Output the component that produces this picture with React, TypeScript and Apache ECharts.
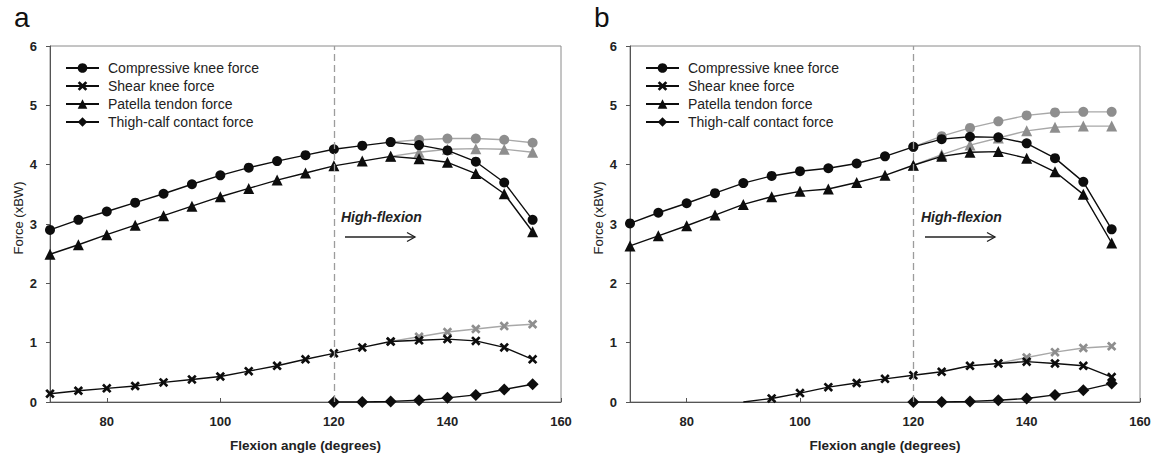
import React, { useEffect, useRef } from "react";
import * as echarts from "echarts";

// ---------- data ----------
const anglesFull = [70, 75, 80, 85, 90, 95, 100, 105, 110, 115, 120, 125, 130, 135, 140, 145, 150, 155];
const anglesFrom90 = [90, 95, 100, 105, 110, 115, 120, 125, 130, 135, 140, 145, 150, 155];
const anglesFrom120 = [120, 125, 130, 135, 140, 145, 150, 155];
const anglesFrom130 = [130, 135, 140, 145, 150, 155];
const anglesFrom135 = [135, 140, 145, 150, 155];

// Panel a
const compA = [2.9, 3.07, 3.21, 3.36, 3.51, 3.67, 3.82, 3.95, 4.06, 4.16, 4.26, 4.32, 4.38, 4.33, 4.24, 4.05, 3.7, 3.07];
const shearA = [0.14, 0.19, 0.23, 0.27, 0.33, 0.38, 0.43, 0.52, 0.61, 0.72, 0.82, 0.92, 1.02, 1.04, 1.06, 1.03, 0.92, 0.72];
const patA = [2.49, 2.65, 2.82, 2.98, 3.14, 3.3, 3.46, 3.6, 3.74, 3.86, 3.98, 4.06, 4.14, 4.1, 4.04, 3.85, 3.51, 2.87];
const thighA = [0, 0, 0.01, 0.03, 0.07, 0.12, 0.21, 0.3];
const compAGray = [4.38, 4.42, 4.44, 4.44, 4.42, 4.37];
const shearAGray = [1.02, 1.1, 1.18, 1.23, 1.28, 1.31];
const patAGray = [4.14, 4.21, 4.26, 4.27, 4.26, 4.21];

// Panel b
const compB = [3.01, 3.19, 3.35, 3.52, 3.69, 3.81, 3.89, 3.94, 4.02, 4.14, 4.3, 4.43, 4.47, 4.46, 4.36, 4.11, 3.71, 2.91];
const shearB = [0, 0.06, 0.15, 0.25, 0.32, 0.39, 0.45, 0.51, 0.61, 0.65, 0.68, 0.65, 0.61, 0.42];
const patB = [2.63, 2.8, 2.97, 3.15, 3.33, 3.46, 3.55, 3.59, 3.7, 3.82, 3.99, 4.14, 4.21, 4.22, 4.11, 3.88, 3.5, 2.68];
const thighB = [0, 0, 0.01, 0.03, 0.06, 0.12, 0.2, 0.31];
const compBGray = [4.3, 4.48, 4.62, 4.73, 4.83, 4.88, 4.89, 4.89];
const shearBGray = [0.65, 0.75, 0.84, 0.91, 0.94];
const patBGray = [3.99, 4.17, 4.33, 4.45, 4.57, 4.63, 4.65, 4.65];

const seriesNames = ["Compressive knee force", "Shear knee force", "Patella tendon force", "Thigh-calf contact force"];
const xTicks = [80, 100, 120, 140, 160];
const panelLetters = ["a", "b"];
const highFlexionAngle = 120;

// ---------- style ----------
const FONT = '"Liberation Sans", Arial, Helvetica, sans-serif';
const BLACK = "#0d0d0d";
const GRAY_LINE = "#a8a8a8";
const GRAY_MARK = "#8e8e8e";
const CROSS = "path://M0,2L2,0L5,3L8,0L10,2L7,5L10,8L8,10L5,7L2,10L0,8L3,5Z";
const SYMBOLS = ["circle", CROSS, "triangle", "diamond"];
const SIZES = [10, 9.5, 11, 12];

function pts(angles: number[], values: number[]) {
  return angles.map((a, i) => [a, values[i]]);
}

function lineSeries(name: string, kind: number, data: any[], grid: number, gray: boolean, extra: any = {}) {
  return {
    type: "line",
    name,
    xAxisIndex: grid,
    yAxisIndex: grid,
    data,
    symbol: SYMBOLS[kind],
    symbolSize: SIZES[kind],
    showSymbol: true,
    clip: true,
    lineStyle: { color: gray ? GRAY_LINE : BLACK, width: 1.4 },
    itemStyle: { color: gray ? GRAY_MARK : BLACK },
    emphasis: { disabled: true },
    z: gray ? 2 : 3,
    ...extra,
  };
}

const markLine120 = {
  silent: true,
  symbol: ["none", "none"],
  label: { show: false },
  lineStyle: { color: "#9c9c9c", type: [7, 4], width: 1.3 },
  data: [{ xAxis: highFlexionAngle }],
};

export default function App() {
  const ref = useRef<HTMLDivElement>(null);

  useEffect(() => {
    if (!ref.current) return;
    const chart = echarts.init(ref.current, null, { renderer: "svg" });

    const panels = [
      {
        black: [pts(anglesFull, compA), pts(anglesFull, shearA), pts(anglesFull, patA), pts(anglesFrom120, thighA)],
        gray: [pts(anglesFrom130, compAGray), pts(anglesFrom130, shearAGray), pts(anglesFrom130, patAGray)],
      },
      {
        black: [
          pts(anglesFull, compB),
          pts(anglesFrom90, shearB).map((p, i) => (i === 0 ? { value: p, symbol: "none" } : p)),
          pts(anglesFull, patB),
          pts(anglesFrom120, thighB),
        ],
        gray: [pts(anglesFrom120, compBGray), pts(anglesFrom135, shearBGray), pts(anglesFrom120, patBGray)],
      },
    ];

    const series: any[] = [];
    panels.forEach((p, g) => {
      const grayKinds = [0, 1, 2];
      p.gray.forEach((d, k) => {
        series.push(lineSeries(seriesNames[grayKinds[k]] + " (extended)", grayKinds[k], d, g, true));
      });
      p.black.forEach((d, k) => {
        series.push(lineSeries(seriesNames[k], k, d, g, false, k === 0 ? { markLine: markLine120 } : {}));
      });
    });

    const grids = [
      { left: 50, top: 46, width: 511, height: 358 },
      { left: 630, top: 46, width: 510, height: 358 },
    ];

    const xAxis = grids.map((_, i) => ({
      type: "value",
      gridIndex: i,
      min: 70,
      max: 160,
      name: "Flexion angle (degrees)",
      nameLocation: "middle",
      nameGap: 36,
      nameTextStyle: { fontFamily: FONT, fontSize: 13.5, fontWeight: "bold", color: "#222" },
      axisLine: { show: true, lineStyle: { color: "#555", width: 1 } },
      axisTick: { show: true, inside: true, length: 4, customValues: xTicks, lineStyle: { color: "#555" } },
      axisLabel: { customValues: xTicks, margin: 13, fontFamily: FONT, fontSize: 13, fontWeight: "bold", color: "#222" },
      splitLine: { show: false },
    }));

    const yAxis = grids.map((_, i) => ({
      type: "value",
      gridIndex: i,
      min: 0,
      max: 6,
      interval: 1,
      axisLine: { show: true, lineStyle: { color: "#555", width: 1 } },
      axisTick: { show: true, inside: false, length: 4, lineStyle: { color: "#555" } },
      axisLabel: { margin: 13, fontFamily: FONT, fontSize: 13, fontWeight: "bold", color: "#222" },
      splitLine: { show: false },
    }));

    const legend = grids.map((g) => ({
      orient: "vertical",
      left: g.left + 10,
      top: 56,
      itemWidth: 33,
      itemHeight: 12,
      itemGap: 4,
      selectedMode: false,
      data: seriesNames,
      textStyle: { fontFamily: FONT, fontSize: 14, color: "#222", lineHeight: 14, padding: [0, 0, 0, 4] },
    }));

    const graphic: any[] = [];
    grids.forEach((g, i) => {
      graphic.push({
        type: "text",
        left: g.left - 36,
        top: 3,
        style: { text: panelLetters[i], fontFamily: FONT, fontSize: 28, fill: "#111" },
      });
      graphic.push({
        type: "text",
        x: g.left - 32,
        y: 218,
        rotation: Math.PI / 2,
        style: { text: "Force (xBW)", fontFamily: FONT, fontSize: 13, fill: "#222", align: "center", verticalAlign: "middle" },
      });
      graphic.push({
        type: "text",
        x: g.left + 291,
        y: 217,
        style: {
          text: "High-flexion",
          fontFamily: FONT,
          fontSize: 14,
          fontWeight: "bold",
          fontStyle: "italic",
          fill: "#222",
          align: "left",
          verticalAlign: "middle",
        },
      });
      graphic.push({
        type: "line",
        shape: { x1: g.left + 295, y1: 237, x2: g.left + 365, y2: 237 },
        style: { stroke: "#222", lineWidth: 1.3 },
      });
      graphic.push({
        type: "polyline",
        shape: { points: [[g.left + 357, 232.5], [g.left + 365, 237], [g.left + 357, 241.5]] },
        style: { stroke: "#222", lineWidth: 1.3, fill: null },
      });
    });

    chart.setOption({
      animation: false,
      backgroundColor: "#ffffff",
      grid: grids.map((g) => ({ ...g, show: true, borderColor: "#8a8a8a", borderWidth: 1, backgroundColor: "transparent" })),
      xAxis,
      yAxis,
      legend,
      series,
      graphic,
    });

    return () => chart.dispose();
  }, []);

  return (
    <div
      ref={ref}
      style={{ position: "fixed", left: 0, top: 0, width: 1155, height: 457, background: "#fff" }}
    />
  );
}
